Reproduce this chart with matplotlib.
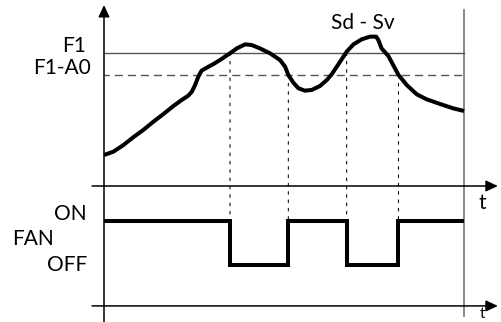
import matplotlib
matplotlib.use("Agg")
import matplotlib.pyplot as plt
from matplotlib.patches import ConnectionPatch

plt.rcParams['font.family'] = ['Lato', 'DejaVu Sans']

# ---- data ----
time = [0, 2.6, 5.4, 8.1, 10.9, 13.7, 16.5, 19.3, 21.6, 23.4, 24.4, 25.3, 26.2, 27.1,
        28.5, 30.4, 32.2, 35.0, 36.9, 39.2, 41.0, 43.3, 46.1, 48.9, 50.3, 51.2, 52.6,
        54.0, 55.8, 57.7, 60.0, 61.9, 63.3, 65.6, 67.4, 69.3, 71.6, 73.9, 75.6, 76.2,
        77.1, 79.0, 81.8, 84.1, 86.9, 89.6, 93.3, 97.0, 100]
temp = [23.3, 25.8, 30.8, 36.6, 42.1, 48.3, 54.1, 60.2, 64.7, 67.9, 70.9, 75.9, 82.2, 86.7,
        88.9, 91.7, 94.7, 99.8, 103.5, 106.5, 106.0, 103.5, 99.8, 94.7, 89.7, 83.5, 77.7,
        73.5, 71.7, 72.2, 75.2, 79.7, 84.2, 93.5, 101.0, 106.5, 110.3, 112.3, 112.3, 109.8,
        103.5, 97.7, 83.5, 75.9, 68.9, 65.2, 61.7, 58.4, 56.4]
F1 = 100
F1_A0 = 83.5
switch_times = [35.0, 51.2, 67.4, 81.8]
switch_levels = [F1, F1_A0, F1, F1_A0]
fan_time = [0, 35.0, 51.2, 67.4, 81.8, 100]
fan_state = [1, 0, 1, 0, 1, 1]
threshold_labels = ["F1", "F1-A0"]
fan_labels = ["ON", "FAN", "OFF"]
peak_label = "Sd - Sv"
time_label = "t"

# ---- figure ----
fig = plt.figure(figsize=(5.02, 3.22), dpi=100)
ax_t = fig.add_axes([0, 0, 1, 1])
ax_f = fig.add_axes([0, 0, 1, 1])
for ax in (ax_t, ax_f):
    ax.set_axis_off()
    ax.set_xlim(-104 / 3.6, 398 / 3.6)
ax_f.patch.set_alpha(0)
ax_t.set_ylim(-136 / 1.33, 186 / 1.33)
ax_f.set_ylim(-57 / 44, 265 / 44)

arrow = dict(arrowstyle='-|>,head_length=0.6,head_width=0.28', color='black',
             lw=1.1, shrinkA=0, shrinkB=0, mutation_scale=12)
# vertical axis
ax_t.annotate('', xy=(0, 136.1), xytext=(0, -102.3), arrowprops=arrow)
# upper time axis
ax_t.annotate('', xy=(109.4, 0), xytext=(-3.3, 0), arrowprops=arrow)
# lower time axis
ax_f.annotate('', xy=(109.4, -0.93), xytext=(-3.3, -0.93), arrowprops=arrow)
# right end line
ax_t.plot([100, 100], [133.1, -98.5], color='#6a6a6a', lw=1.1, solid_capstyle='butt')

# thresholds
ax_t.plot([0, 100], [F1, F1], color='#555555', lw=1.0)
ax_t.plot([0, 100], [F1_A0, F1_A0], color='#555555', lw=1.0, linestyle=(2, (5.8, 3.6)))

# temperature curve
ax_t.plot(time, temp, color='black', lw=2.9, solid_joinstyle='round', solid_capstyle='butt')

# fan signal
ax_f.plot(fan_time, fan_state, color='black', lw=2.9, drawstyle='steps-post',
          solid_joinstyle='miter', solid_capstyle='butt')

# dotted connections
for st, lv in zip(switch_times, switch_levels):
    con = ConnectionPatch(xyA=(st, lv), coordsA=ax_t.transData,
                          xyB=(st, 1), coordsB=ax_f.transData,
                          color='black', lw=0.75, linestyle=(0, (2.6, 5.4)))
    fig.add_artist(con)

fs = 15
ax_t.text(-5.0, 105.3, threshold_labels[0], ha='right', va='center', fontsize=fs)
ax_t.text(-3.7, 88.5, threshold_labels[1], ha='right', va='center', fontsize=fs)
ax_t.text(71.9, 122.6, peak_label, ha='center', va='center', fontsize=fs)
ax_t.text(105, -12.8, time_label, ha='center', va='center', fontsize=fs)
ax_f.text(105, -1.205, time_label, ha='center', va='baseline', fontsize=11)
ax_f.text(-4.7, 1.16, fan_labels[0], ha='right', va='center', fontsize=fs)
ax_f.text(-25.6, 0.58, fan_labels[1], ha='left', va='center', fontsize=fs)
ax_f.text(-4.7, -0.01, fan_labels[2], ha='right', va='center', fontsize=fs)

fig.savefig('out.png', dpi=100)
